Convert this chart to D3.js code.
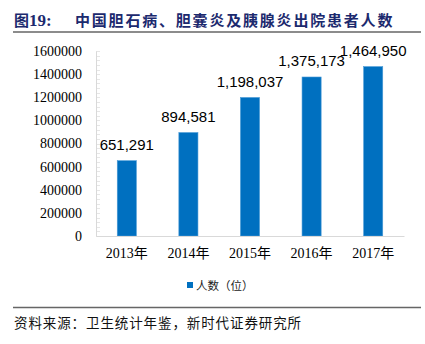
<!DOCTYPE html>
<html><head><meta charset="utf-8">
<script src="https://cdn.jsdelivr.net/npm/d3@7"></script>
<style>body{margin:0;background:#fff}svg{display:block}</style>
</head><body>
<script>
const categories = ["2013年","2014年","2015年","2016年","2017年"];
const values = [651291, 894581, 1198037, 1375173, 1464950];
const yTicks = [0,200000,400000,600000,800000,1000000,1200000,1400000,1600000];
const seriesName = "人数（位）";
const titlePrefix = "图19:";
const titleText = "中国胆石病、胆囊炎及胰腺炎出院患者人数";
const sourceText = "资料来源：卫生统计年鉴，新时代证券研究所";

const W = 425, H = 344;
const svg = d3.select("body").append("svg").attr("width", W).attr("height", H);

// Title
const navy = "#1c2a6e";
svg.append("text").attr("x", 14).attr("y", 26)
  .attr("font-family", "'Noto Sans CJK SC'").attr("font-weight", "bold").attr("font-size", 15)
  .attr("fill", navy).text(titlePrefix.slice(0,1))
  .append("tspan").attr("font-family", "'Liberation Serif'").attr("font-size", 17).text(titlePrefix.slice(1));
svg.append("text").attr("x", 75).attr("y", 26)
  .attr("font-family", "'Noto Sans CJK SC'").attr("font-weight", "bold").attr("font-size", 15)
  .attr("letter-spacing", 1.8).attr("fill", navy).text(titleText);
svg.append("line").attr("x1", 13).attr("x2", 421).attr("y1", 32).attr("y2", 32)
  .attr("stroke", "#666").attr("stroke-width", 1.6);

// Scales
const x = d3.scaleBand().domain(categories).range([96, 404]).paddingInner(0.69).paddingOuter(0.345);
const y = d3.scaleLinear().domain([0, 1600000]).range([236, 51]);

// minor ticks
const minor = d3.range(0, 1600001, 40000);
svg.append("g").selectAll("line").data(minor).join("line")
  .attr("x1", 96).attr("x2", 100).attr("y1", d => Math.round(y(d)) + 0.5).attr("y2", d => Math.round(y(d)) + 0.5)
  .attr("stroke", "#e6e6e6").attr("stroke-width", 1);

// Y axis
const yAxis = svg.append("g").attr("transform", "translate(96,0)")
  .call(d3.axisLeft(y).tickValues(yTicks).tickSize(0).tickPadding(14).tickFormat(d3.format("d")));
yAxis.select(".domain").attr("stroke", "#d9d9d9");
yAxis.selectAll("text").attr("font-family", "'Liberation Serif'").attr("font-size", 14).attr("fill", "#000");

// Bars
svg.append("g").selectAll("rect").data(values).join("rect")
  .attr("x", (d, i) => x(categories[i])).attr("width", x.bandwidth())
  .attr("y", d => y(d)).attr("height", d => y(0) - y(d))
  .attr("fill", "#0070c0").attr("stroke", "#4a9ad6").attr("stroke-width", 0.6);

// X axis
const xAxis = svg.append("g").attr("transform", "translate(0,236)")
  .call(d3.axisBottom(x).tickSize(0).tickPadding(12).tickSizeOuter(0));
xAxis.select(".domain").attr("stroke", "#d9d9d9").attr("stroke-width", 1.2);
xAxis.selectAll("text").attr("font-family", "'Liberation Serif', 'Noto Sans CJK SC'").attr("font-size", 14).attr("fill", "#000");

// Data labels
svg.append("g").selectAll("text").data(values).join("text")
  .attr("x", (d, i) => x(categories[i]) + x.bandwidth() / 2)
  .attr("y", d => y(d) - 10.5).attr("text-anchor", "middle")
  .attr("font-family", "'Liberation Sans'").attr("font-size", 15).attr("fill", "#000")
  .text(d => d3.format(",")(d));

// Legend
svg.append("rect").attr("x", 187).attr("y", 282).attr("width", 6).attr("height", 6).attr("fill", "#0070c0");
svg.append("text").attr("x", 196).attr("y", 289.5)
  .attr("font-family", "'Noto Sans CJK SC'").attr("font-size", 11.5).attr("fill", "#222").text(seriesName);

// Bottom line & source
svg.append("line").attr("x1", 13).attr("x2", 421).attr("y1", 307.5).attr("y2", 307.5)
  .attr("stroke", "#666").attr("stroke-width", 1.3);
svg.append("text").attr("x", 14).attr("y", 328)
  .attr("font-family", "'Noto Sans CJK SC'").attr("font-size", 13.5).attr("letter-spacing", 0.9).attr("fill", "#111").text(sourceText);
</script>
</body></html>
